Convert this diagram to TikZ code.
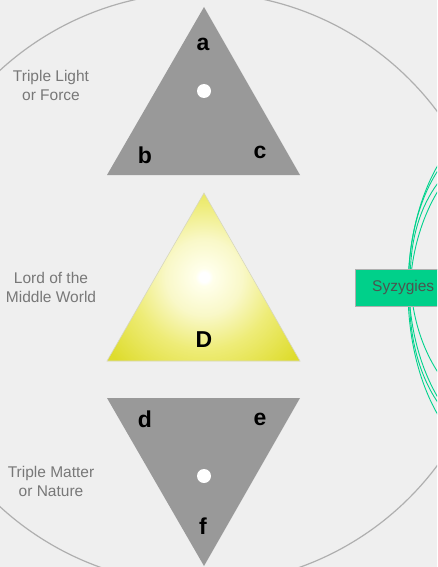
\documentclass[tikz,border=0pt]{standalone}
\usepackage{fontspec}
\setmainfont{Liberation Sans}
\definecolor{bg}{RGB}{239,239,239}
\definecolor{tri}{RGB}{153,153,153}
\definecolor{ring}{RGB}{175,175,175}
\definecolor{lbl}{RGB}{120,120,120}
\definecolor{grn}{RGB}{0,210,140}
\definecolor{boxg}{RGB}{0,208,138}
\definecolor{yla}{RGB}{255,255,235}
\definecolor{ylb}{RGB}{249,248,200}
\definecolor{ylc}{RGB}{238,236,120}
\definecolor{yld}{RGB}{222,220,45}
\pgfdeclareradialshading{glow}{\pgfpoint{0bp}{0bp}}{color(0bp)=(white); color(5bp)=(white); color(9bp)=(yla); color(38bp)=(ylb); color(72bp)=(ylc); color(120bp)=(yld); color(140bp)=(yld)}
\begin{document}
\begin{tikzpicture}[x=1pt,y=-1pt,
  sidelbl/.style={text=lbl,font=\fontsize{15.5}{19}\selectfont,align=center,inner sep=0pt},
  letter/.style={font=\fontsize{23}{25}\selectfont\bfseries,text=black,inner sep=0pt},
  dot/.style={fill=white,draw=none}]
\useasboundingbox (0,0) rectangle (437,567);
\fill[bg] (0,0) rectangle (437,567);
\clip (0,0) rectangle (437,567);
% big ring
\draw[ring,line width=1.2pt] (200,288.5) circle (296);
% green arcs
\begin{scope}[grn,line width=0.9pt]
\draw (508,290) ellipse (100 and 175);
\draw[rotate around={3:(507,290)}] (507,290) ellipse (98 and 160);
\draw[rotate around={-4:(506,290)}] (506,290) ellipse (96 and 150);
\draw[rotate around={6:(505,285)}] (505,285) ellipse (94 and 135);
\end{scope}
% Syzygies box
\node[draw=ring,fill=boxg,line width=0.8pt,minimum height=37pt,minimum width=100pt,anchor=west,inner sep=0pt] (syz) at (355,287.5) {};
\node[anchor=west,text={rgb,255:red,75;green,85;blue,80},font=\fontsize{15.5}{18}\selectfont,inner sep=0pt] (syzt) at (372,287.5) {Syzygies};
% top triangle
\fill[tri] (204,7) -- (300,175) -- (107,175) -- cycle;
\fill[dot] (204,91) circle (7);
\node[letter] (a) at (203,44) {a};
\node[letter] (b) at (145,155) {b};
\node[letter] (c) at (260,152) {c};
% middle triangle
\begin{scope}
\clip (204,193) -- (300,361) -- (107,361) -- cycle;
\node[inner sep=0pt] at (204,277) {\pgfuseshading{glow}};
\end{scope}
\draw[color={rgb,255:red,215;green,215;blue,190},line width=0.6pt] (204,193) -- (300,361) -- (107,361) -- cycle;
\node[letter] (D) at (204,340) {D};
% bottom triangle
\fill[tri] (107,398) -- (300,398) -- (204,566) -- cycle;
\fill[dot] (204,476) circle (7);
\node[letter] (d) at (145,419) {d};
\node[letter] (e) at (260,419) {e};
\node[letter] (f) at (203,526) {f};
% side labels
\node[sidelbl] (l1) at (51,85) {Triple Light\\or Force};
\node[sidelbl] (l2) at (51,287) {Lord of the\\Middle World};
\node[sidelbl] (l3) at (51,481) {Triple Matter\\or Nature};
\end{tikzpicture}
\end{document}
